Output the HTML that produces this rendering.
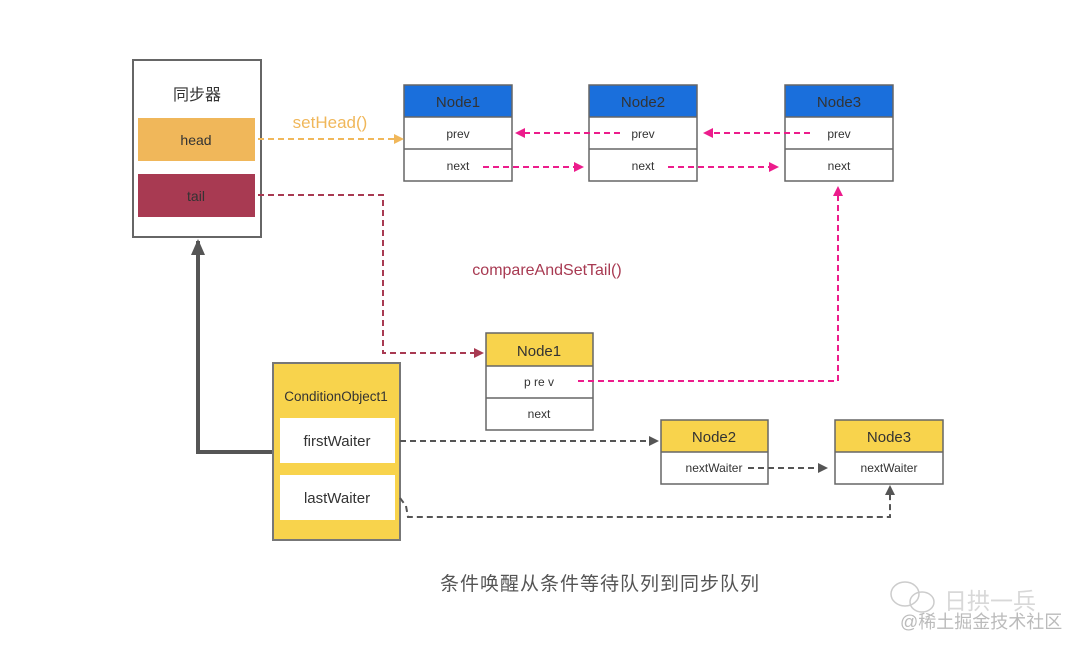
<!DOCTYPE html>
<html><head><meta charset="utf-8"><style>
html,body{margin:0;padding:0;background:#fff;}
svg{display:block;}
text{font-family:"Liberation Sans","Noto Sans CJK SC",sans-serif;}
</style></head><body>
<svg width="1080" height="649" viewBox="0 0 1080 649" xmlns="http://www.w3.org/2000/svg">
<defs>
<marker id="ao" markerWidth="10" markerHeight="10" refX="8" refY="5" orient="auto" markerUnits="userSpaceOnUse"><path d="M0,0 L10,5 L0,10 z" fill="#f0b75a"/></marker>
<marker id="ap" markerWidth="10" markerHeight="10" refX="8" refY="5" orient="auto" markerUnits="userSpaceOnUse"><path d="M0,0 L10,5 L0,10 z" fill="#ec1c8c"/></marker>
<marker id="am" markerWidth="10" markerHeight="10" refX="8" refY="5" orient="auto" markerUnits="userSpaceOnUse"><path d="M0,0 L10,5 L0,10 z" fill="#a83a52"/></marker>
<marker id="ag" markerWidth="10" markerHeight="10" refX="8" refY="5" orient="auto" markerUnits="userSpaceOnUse"><path d="M0,0 L10,5 L0,10 z" fill="#555"/></marker>
<marker id="ab" markerWidth="18" markerHeight="14" refX="14" refY="7" orient="auto" markerUnits="userSpaceOnUse"><path d="M0,0 L16,7 L0,14 z" fill="#555"/></marker>
</defs>
<rect x="133" y="60" width="128" height="177" fill="#fff" stroke="#666" stroke-width="2"/>
<text x="197" y="100" font-size="16" text-anchor="middle" fill="#333">同步器</text>
<rect x="138" y="118" width="117" height="43" fill="#f0b75a"/>
<text x="196" y="145" font-size="14" text-anchor="middle" fill="#333">head</text>
<rect x="138" y="174" width="117" height="43" fill="#a83a52"/>
<text x="196" y="201" font-size="14" text-anchor="middle" fill="#333">tail</text>

<g font-size="12" text-anchor="middle" fill="#333">
<g>
<rect x="404" y="85" width="108" height="32" fill="#1a6fdc"/>
<rect x="404" y="85" width="108" height="96" fill="none" stroke="#666" stroke-width="1.5"/>
<line x1="404" y1="117" x2="512" y2="117" stroke="#666" stroke-width="1.5"/>
<line x1="404" y1="149" x2="512" y2="149" stroke="#666" stroke-width="1.5"/>
<text x="458" y="107" font-size="15">Node1</text><text x="458" y="138">prev</text><text x="458" y="170">next</text>
</g>
<g>
<rect x="589" y="85" width="108" height="32" fill="#1a6fdc"/>
<rect x="589" y="85" width="108" height="96" fill="none" stroke="#666" stroke-width="1.5"/>
<line x1="589" y1="117" x2="697" y2="117" stroke="#666" stroke-width="1.5"/>
<line x1="589" y1="149" x2="697" y2="149" stroke="#666" stroke-width="1.5"/>
<text x="643" y="107" font-size="15">Node2</text><text x="643" y="138">prev</text><text x="643" y="170">next</text>
</g>
<g>
<rect x="785" y="85" width="108" height="32" fill="#1a6fdc"/>
<rect x="785" y="85" width="108" height="96" fill="none" stroke="#666" stroke-width="1.5"/>
<line x1="785" y1="117" x2="893" y2="117" stroke="#666" stroke-width="1.5"/>
<line x1="785" y1="149" x2="893" y2="149" stroke="#666" stroke-width="1.5"/>
<text x="839" y="107" font-size="15">Node3</text><text x="839" y="138">prev</text><text x="839" y="170">next</text>
</g>
<g>
<rect x="486" y="333" width="107" height="33" fill="#f8d34c"/>
<rect x="486" y="333" width="107" height="97" fill="none" stroke="#666" stroke-width="1.5"/>
<line x1="486" y1="366" x2="593" y2="366" stroke="#666" stroke-width="1.5"/>
<line x1="486" y1="398" x2="593" y2="398" stroke="#666" stroke-width="1.5"/>
<text x="539" y="356" font-size="15">Node1</text><text x="539" y="386">p re v</text><text x="539" y="418">next</text>
</g>
<g>
<rect x="661" y="420" width="107" height="32" fill="#f8d34c"/>
<rect x="661" y="420" width="107" height="64" fill="none" stroke="#666" stroke-width="1.5"/>
<line x1="661" y1="452" x2="768" y2="452" stroke="#666" stroke-width="1.5"/>
<text x="714" y="442" font-size="15">Node2</text><text x="714" y="472">nextWaiter</text>
</g>
<g>
<rect x="835" y="420" width="108" height="32" fill="#f8d34c"/>
<rect x="835" y="420" width="108" height="64" fill="none" stroke="#666" stroke-width="1.5"/>
<line x1="835" y1="452" x2="943" y2="452" stroke="#666" stroke-width="1.5"/>
<text x="889" y="442" font-size="15">Node3</text><text x="889" y="472">nextWaiter</text>
</g>
</g>

<rect x="273" y="363" width="127" height="177" fill="#f8d34c" stroke="#777" stroke-width="2"/>
<rect x="280" y="418" width="115" height="45" fill="#fff"/>
<rect x="280" y="475" width="115" height="45" fill="#fff"/>
<text x="336" y="401" font-size="13.5" text-anchor="middle" fill="#333">ConditionObject1</text>
<text x="337" y="446" font-size="15" text-anchor="middle" fill="#333">firstWaiter</text>
<text x="337" y="503" font-size="15" text-anchor="middle" fill="#333">lastWaiter</text>

<text x="330" y="128" font-size="17" text-anchor="middle" fill="#f0b75a">setHead()</text>
<text x="547" y="275" font-size="16" text-anchor="middle" fill="#a83a52">compareAndSetTail()</text>

<g fill="none" stroke-width="2" stroke-dasharray="6,4">
<path d="M258,139 L402,139" stroke="#f0b75a" marker-end="url(#ao)"/>
<path d="M620,133 L517,133" stroke="#ec1c8c" marker-end="url(#ap)"/>
<path d="M810,133 L705,133" stroke="#ec1c8c" marker-end="url(#ap)"/>
<path d="M483,167 L582,167" stroke="#ec1c8c" marker-end="url(#ap)"/>
<path d="M668,167 L777,167" stroke="#ec1c8c" marker-end="url(#ap)"/>
<path d="M258,195 L383,195 L383,353 L482,353" stroke="#a83a52" marker-end="url(#am)"/>
<path d="M578,381 L838,381 L838,188" stroke="#ec1c8c" marker-end="url(#ap)"/>
<path d="M400,441 L657,441" stroke="#555" marker-end="url(#ag)"/>
<path d="M748,468 L826,468" stroke="#555" marker-end="url(#ag)"/>
<path d="M400,498 L406,506 L408,517 L890,517 L890,487" stroke="#555" marker-end="url(#ag)"/>
</g>
<path d="M272,452 L198,452 L198,241" fill="none" stroke="#555" stroke-width="4" marker-end="url(#ab)"/>

<text x="600" y="590" font-size="19" text-anchor="middle" fill="#555" letter-spacing="1">条件唤醒从条件等待队列到同步队列</text>

<g fill="none" stroke="#ccc" stroke-width="1.5">
<ellipse cx="905" cy="594" rx="14" ry="12"/>
<ellipse cx="922" cy="602" rx="12" ry="10"/>
</g>
<text x="944" y="609" font-size="23" fill="#d8d8d8">日拱一兵</text>
<text x="900" y="628" font-size="18" fill="#bbb">@稀土掘金技术社区</text>
</svg>
</body></html>
